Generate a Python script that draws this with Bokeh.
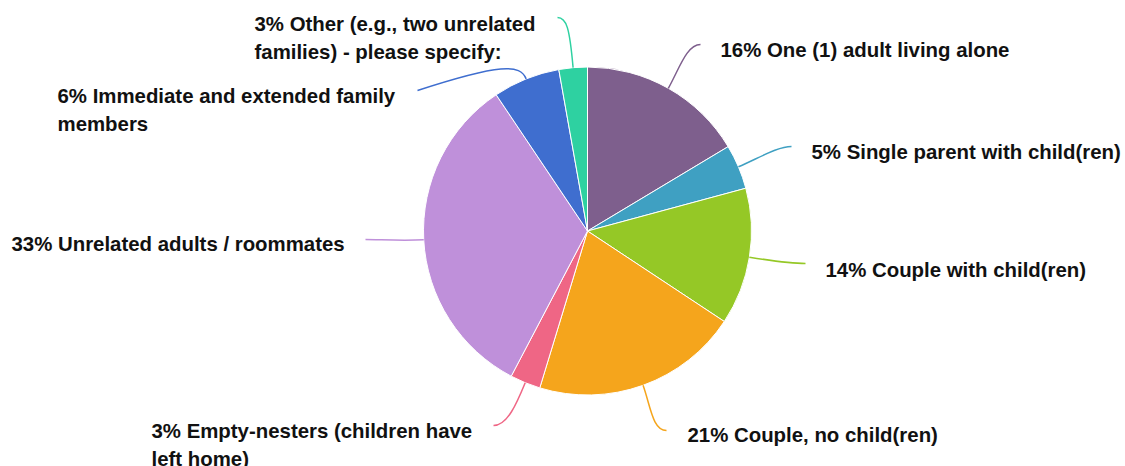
import math
from bokeh.plotting import figure
from bokeh.models import Range1d, ColumnDataSource
from bokeh.core.properties import value
from bokeh.embed import file_html
from bokeh.resources import INLINE

# ---- data ----
categories = [
    "One (1) adult living alone",
    "Single parent with child(ren)",
    "Couple with child(ren)",
    "Couple, no child(ren)",
    "Empty-nesters (children have\nleft home)",
    "Unrelated adults / roommates",
    "Immediate and extended family\nmembers",
    "Other (e.g., two unrelated\nfamilies) - please specify:",
]
shares = [16.4, 4.4, 13.5, 20.4, 3.0, 32.9, 6.6, 2.8]
pct_labels = ["16%", "5%", "14%", "21%", "3%", "33%", "6%", "3%"]
colors = ["#7E5F8D", "#3FA0C2", "#95C826", "#F5A51C", "#EF6685",
          "#BF90DA", "#3F6ECF", "#2ED1A1"]

# ---- layout (image pixel coordinates) ----
W, H = 1125, 466
OFF = 0
CX, CY, R = 587, 230.5, 164
# label text anchor (left x, first baseline y)
label_pos = [(720, 49), (811, 151), (825, 269), (687, 434),
             (151, 430), (11, 243), (57, 95), (254, 23)]
# connector end points
conn_end = [(700, 44), (791, 146), (805, 263), (666, 430),
            (493, 425), (365, 239), (417, 90), (557, 17)]
LINE_H = 28


def dx(x):
    return x - OFF


def dy(y):
    return (H + OFF) - y


p = figure(width=W, height=H, output_backend="svg", toolbar_location=None,
           x_range=Range1d(0, W), y_range=Range1d(0, H), min_border=0)
p.axis.visible = False
p.grid.visible = False
p.outline_line_color = None
p.background_fill_color = "white"
p.border_fill_color = "white"

total = sum(shares)
starts, ends, mids = [], [], []
cum = 0.0
for s in shares:
    a0 = cum / total
    cum += s
    a1 = cum / total
    starts.append(math.pi / 2 - 2 * math.pi * a0)
    ends.append(math.pi / 2 - 2 * math.pi * a1)
    mids.append((a0 + a1) / 2)

src = ColumnDataSource(dict(x=[dx(CX)] * len(shares), y=[dy(CY)] * len(shares),
                            start=starts, end=ends, color=colors))
p.wedge(x="x", y="y", radius=R, radius_units="screen", start_angle="start",
        end_angle="end", direction="clock", fill_color="color",
        line_color="white", line_width=1, source=src)

# connectors
for i, m in enumerate(mids):
    th = 2 * math.pi * m
    ux, uy = math.sin(th), -math.cos(th)  # radial unit (image coords)
    sx, sy = CX + R * ux, CY + R * uy
    ex, ey = conn_end[i]
    d0 = 22
    c0x, c0y = sx + ux * d0, sy + uy * d0
    side = 1 if ex > CX else -1
    c1x, c1y = ex - side * 14, ey
    if i == 6:
        c0x, c0y = sx + ux * 16, sy + uy * 16
        c1x, c1y = 500, 63
    if i == 7:
        c0x, c0y = sx + ux * 40, sy + uy * 40
        c1x, c1y = 566, 17
    p.bezier(x0=dx(sx), y0=dy(sy), x1=dx(ex), y1=dy(ey),
             cx0=dx(c0x), cy0=dy(c0y), cx1=dx(c1x), cy1=dy(c1y),
             line_color=colors[i], line_width=1.5)

# labels
for i, cat in enumerate(categories):
    lines = (pct_labels[i] + " " + cat).split("\n")
    lx, ly = label_pos[i]
    for k, ln in enumerate(lines):
        p.text(x=[dx(lx)], y=[dy(ly + k * LINE_H)], text=[ln],
               text_font=value("Liberation Sans"), text_font_style="bold",
               text_font_size="20.4px", text_color="#111111",
               text_align="left", text_baseline="alphabetic")

open("out.html", "w").write(file_html(p, INLINE))
